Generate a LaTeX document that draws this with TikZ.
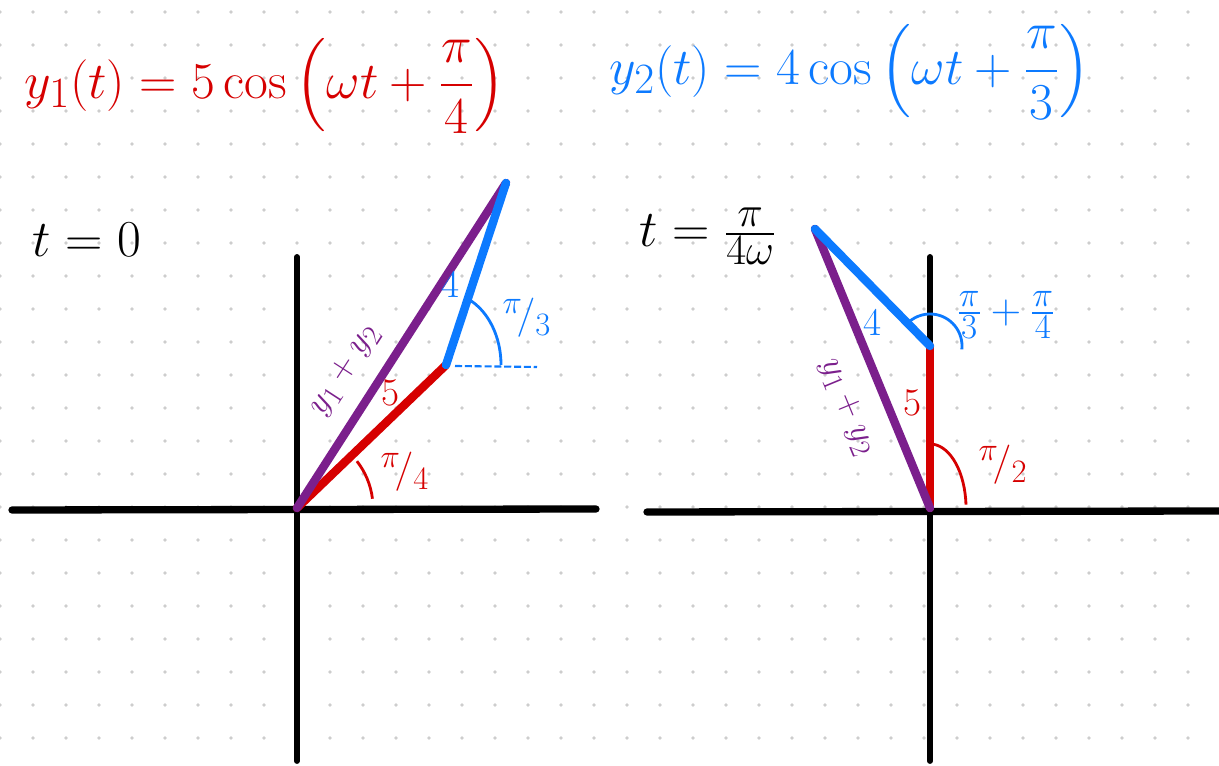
\documentclass[tikz,border=0pt]{standalone}
\usepackage{amsmath}
\usepackage{xcolor}
\usepackage{tikz}
\definecolor{phred}{RGB}{214,0,0}
\definecolor{phblue}{RGB}{12,122,255}
\definecolor{phpurple}{RGB}{123,31,140}
\definecolor{dotgray}{RGB}{205,205,205}
\tikzset{
  axisline/.style={line width=5.2pt, line cap=round},
  phasor/.style={line width=6pt, line cap=round},
  anglearc/.style={line width=2pt},
  biglabel/.style={font=\Huge, inner sep=0pt, scale=1.48, transform shape},
  numlabel/.style={font=\Huge, inner sep=0pt, scale=1.12, transform shape},
  sumlabel/.style={font=\Huge, inner sep=0pt, text=phpurple}
}

\begin{document}
\begin{tikzpicture}[x=0.025cm, y=-0.025cm]
  \useasboundingbox (0,0) rectangle (1219,766);
  \fill[white] (0,0) rectangle (1219,766);
  % dotted paper
  \foreach \gx in {0,33,...,1218}
    \foreach \gy in {12,45,...,766}
      \fill[dotgray] (\gx,\gy) circle[radius=1.4pt];

  % the two signals
  \node[biglabel, text=phred] (yone) at (265,86) {$y_1(t) = 5\cos\left(\omega t+\dfrac{\pi}{4}\right)$};
  \node[biglabel, text=phblue] (ytwo) at (850,72) {$y_2(t) = 4\cos\left(\omega t+\dfrac{\pi}{3}\right)$};

  % t = 0
  \node[biglabel] (tzero) at (87,240) {$t=0$};
  \coordinate (O1) at (297,508);
  \coordinate (A1) at (446,365);
  \coordinate (B1) at (506,183);
  \coordinate (xl1) at (12,510);
  \coordinate (xr1) at (596,509);
  \coordinate (yt1) at (297,257);
  \coordinate (yb1) at (297,761);
  \coordinate (H0) at (455,366);
  \coordinate (H1) at (537,367);
  \draw[axisline] (xl1) -- (xr1);
  \draw[axisline, line width=4.2pt] (yt1) -- (yb1);
  \draw[phblue, line width=1.5pt, dash pattern=on 5pt off 2pt] (H0) -- (H1);
  \draw[phasor, phred] (O1) -- (A1);
  \draw[phasor, phpurple] (O1) -- (B1);
  \draw[phasor, phblue] (A1) -- (B1);
  \draw[anglearc, phred] ([shift={(7:1.9cm)}]O1) arc[start angle=7, end angle=38, radius=1.9cm];
  \draw[anglearc, phblue] ([shift={(0:1.375cm)}]A1) arc[start angle=0, end angle=65, x radius=1.375cm, y radius=1.8cm];
  \node[numlabel, text=phred] (lfive) at (390,393) {$5$};
  \node[numlabel, text=phblue] (lfour) at (450,285) {$4$};
  \node[numlabel, text=phblue] (lthird) at (527,318) {${}^{\pi}\!/_{3}$};
  \node[numlabel, text=phred] (lquarter) at (405,472) {${}^{\pi}\!/_{4}$};
  \node[sumlabel, rotate=57] (lsum) at (345,370) {$y_1+y_2$};

  % t = pi / 4 omega
  \node[biglabel] (tquarter) at (708,236) {$t=\frac{\pi}{4\omega}$};
  \coordinate (O2) at (930,508);
  \coordinate (A2) at (930,346);
  \coordinate (B2) at (815,229);
  \coordinate (xl2) at (647,512);
  \coordinate (xr2) at (1219,511);
  \coordinate (yt2) at (930,257);
  \coordinate (yb2) at (930,761);
  \draw[axisline] (xl2) -- (xr2);
  \draw[axisline, line width=4.2pt] (yt2) -- (yb2);
  \draw[phasor, phred] (O2) -- (A2);
  \draw[phasor, phpurple] (O2) -- (B2);
  \draw[phasor, phblue] (A2) -- (B2);
  \draw[anglearc, phblue] ([shift={(-6:0.8cm)}]A2) arc[start angle=-6, end angle=140, radius=0.8cm];
  \draw[anglearc, phred] ([shift={(3:0.9cm and 1.6cm)}]O2) arc[start angle=3, end angle=85, x radius=0.9cm, y radius=1.6cm];
  \node[numlabel, text=phred] (rfive) at (912,403) {$5$};
  \node[numlabel, text=phblue] (rfour) at (872,323) {$4$};
  \node[sumlabel, text=phblue, scale=1.2, transform shape] (rsum) at (1006,315) {$\frac{\pi}{3}+\frac{\pi}{4}$};
  \node[numlabel, text=phred] (rhalf) at (1003,465) {${}^{\pi}\!/_{2}$};
  \node[sumlabel, rotate=-67.6] (rsumlabel) at (847,407) {$y_1+y_2$};
\end{tikzpicture}
\end{document}
